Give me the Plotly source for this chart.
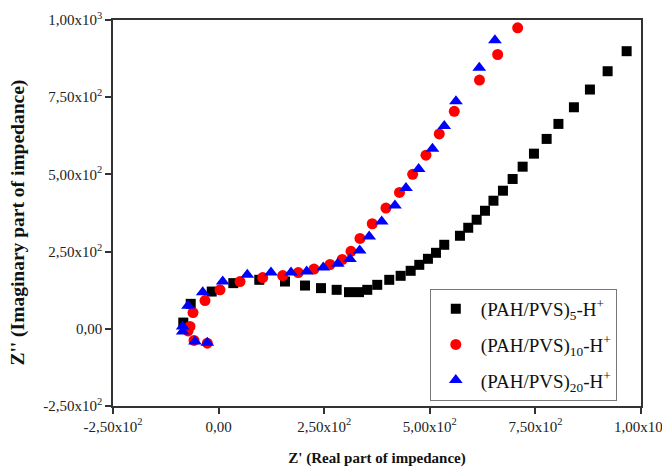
import plotly.graph_objects as go

# Nyquist data (Z' real, Z'' imaginary)
pvs5_re = [-83.6, -66.0, -16.3, 34.8, 96.3, 157.2, 204.5, 242.4, 279.5, 308.7,
           332.3, 352.0, 375.6, 404.0, 431.0, 454.7, 475.1, 495.6, 514.6, 534.2,
           571.4, 591.0, 610.9, 630.6, 650.7, 673.2, 696.1, 719.8, 746.6, 776.6,
           804.5, 841.2, 879.1, 921.0, 966.0]
pvs5_im = [20.1, 80.8, 120.6, 147.9, 158.6, 153.1, 140.1, 131.7, 126.2, 118.7,
           118.7, 126.2, 142.4, 158.6, 171.6, 187.8, 207.2, 226.7, 246.1, 272.1,
           301.3, 327.2, 353.2, 382.3, 414.8, 447.2, 485.2, 525.0, 567.2, 614.9,
           663.5, 717.4, 774.8, 834.1, 899.0]

pvs10_re = [-26.7, -58.2, -72.4, -67.7, -60.6, -32.2, 3.3, 50.7, 104.4, 151.7,
            188.6, 225.8, 263.7, 292.6, 313.4, 334.7, 363.8, 396.2, 428.2, 459.4,
            490.9, 522.4, 557.9, 617.6, 660.6, 708.0]
pvs10_im = [-46.7, -37.6, -6.8, 7.8, 52.5, 91.5, 126.2, 153.1, 166.0, 172.5,
            182.2, 193.3, 208.2, 224.4, 251.0, 292.5, 340.2, 391.1, 441.7, 500.1,
            562.3, 631.1, 704.4, 805.6, 888.3, 974.8]

pvs20_re = [-26.7, -55.9, -85.0, -85.0, -72.4, -37.6, 9.7, 67.9, 124.0, 171.4,
            208.5, 247.8, 282.1, 311.0, 334.0, 356.5, 386.1, 417.5, 443.6, 473.6,
            506.3, 534.2, 561.9, 617.1, 654.2]
pvs20_im = [-44.8, -41.5, -9.1, 7.1, 74.3, 118.7, 153.1, 174.8, 182.3, 182.3,
            185.5, 198.5, 210.5, 225.7, 253.6, 299.0, 347.7, 399.5, 456.0, 517.6,
            583.4, 656.4, 736.8, 845.1, 934.6]

tick_vals = [-250, 0, 250, 500, 750, 1000]
tick_text = ["-2,50x10<sup>2</sup>", "0,00", "2,50x10<sup>2</sup>",
             "5,00x10<sup>2</sup>", "7,50x10<sup>2</sup>", "1,00x10<sup>3</sup>"]

serif = "Liberation Serif"

fig = go.Figure()
fig.add_trace(go.Scatter(
    x=pvs5_re, y=pvs5_im, mode="markers", legendgroup="a",
    name="(PAH/PVS)<sub>5</sub>-H<sup>+</sup>",
    marker=dict(symbol="square", size=10, color="black")
))
fig.add_trace(go.Scatter(
    x=pvs10_re, y=pvs10_im, mode="markers", legendgroup="b",
    name="(PAH/PVS)<sub>10</sub>-H<sup>+</sup>",
    marker=dict(symbol="circle", size=11, color="#ff0000")
))
fig.add_trace(go.Scatter(
    x=pvs20_re, y=pvs20_im, mode="markers", legendgroup="c",
    name="(PAH/PVS)<sub>20</sub>-H<sup>+</sup>",
    marker=dict(symbol="triangle-up", size=12, color="#0000ff")
))

axis_common = dict(
    tickvals=tick_vals, ticktext=tick_text,
    showgrid=False, zeroline=False, automargin=False,
    ticklabeloverflow="allow",
    showline=True, linecolor="#333333", linewidth=1.5, mirror=True,
    ticks="outside", ticklen=6, tickwidth=1.5, tickcolor="#333333",
    tickfont=dict(family=serif, size=15, color="#222222"),
)

# page body has an 8px margin; the figure is shifted by it, the window crops the rest
fig.update_layout(
    width=670, height=460,
    margin=dict(l=105, r=37, t=12, b=62),
    plot_bgcolor="white", paper_bgcolor="white",
    xaxis=dict(range=[-250, 1000], **axis_common,
               title=dict(text="<b>Z' (Real part of impedance)</b>",
                          font=dict(family=serif, size=15, color="#111111"),
                          standoff=19)),
    yaxis=dict(range=[-250, 1000], **axis_common),
    legend=dict(
        x=0.6, y=0.3035, xanchor="left", yanchor="top",
        bordercolor="#777777", borderwidth=1, bgcolor="white",
        font=dict(family=serif, size=19, color="#111111"),
        tracegroupgap=8, itemwidth=40,
    ),
    showlegend=True,
)

fig.add_annotation(
    text="<b>Z'' (Imaginary part of impedance)</b>",
    xref="paper", yref="paper", x=-0.18, y=0.475,
    xanchor="center", yanchor="middle", textangle=-90, showarrow=False,
    font=dict(family=serif, size=19.5, color="#111111"),
)

fig.write_html("out.html")
